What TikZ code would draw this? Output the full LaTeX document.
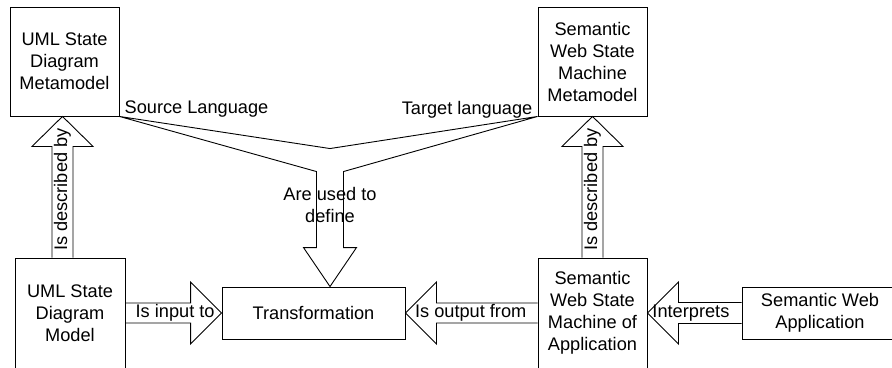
\documentclass[tikz,border=0pt]{standalone}
\usepackage{fontspec}
\setmainfont{Liberation Sans}
\usetikzlibrary{calc}

\begin{document}
\begin{tikzpicture}[x=1pt,y=-1pt,
    every node/.style={font=\fontsize{18.2}{22}\selectfont},
    box/.style={draw,line width=0.9pt,inner sep=0pt,align=center},
    blk/.style={draw,line width=0.9pt,line join=miter},
    lbl/.style={inner sep=0pt,align=center}]
    \useasboundingbox (0,0) rectangle (892,367);

    % Metamodels (top row)
    \node[box,minimum width=109pt,minimum height=109pt] (umlmeta) at (64.5,61.5) {UML State\\Diagram\\Metamodel};
    \node[box,minimum width=109pt,minimum height=109pt] (swmeta) at (592.5,61.5) {Semantic\\Web State\\Machine\\Metamodel};

    % Models and transformation (bottom row)
    \node[box,minimum width=110pt,minimum height=110pt] (umlmodel) at (70,313) {UML State\\Diagram\\Model};
    \node[box,minimum width=183pt,minimum height=52pt] (transf) at (313.5,313) {Transformation};
    \node[box,minimum width=109pt,minimum height=110pt] (swapp) at (592.5,313) {Semantic\\Web State\\Machine of\\Application};
    \node[box,minimum width=156pt,minimum height=52pt] (swweb) at (820,313) {Semantic Web\\Application};

    % Is described by (left)
    \coordinate (lx) at (62.5,0);
    \draw[blk] ($(lx |- umlmodel.north)+(-10.5,0)$) -- ($(lx |- umlmeta.south)+(-10.5,30)$) -- ++(-20,0)
        -- (lx |- umlmeta.south) -- ++(30.5,30) -- ++(-20,0) -- ($(lx |- umlmodel.north)+(10.5,0)$);
    \node[lbl,rotate=90] (descl) at ($(lx |- umlmodel.north)+(0,-68)$) {Is described by};

    % Is described by (right)
    \draw[blk] ($(swapp.north)+(-10.5,0)$) -- ($(swmeta.south)+(-10.5,30)$) -- ++(-20,0)
        -- (swmeta.south) -- ++(30.5,30) -- ++(-20,0) -- ($(swapp.north)+(10.5,0)$);
    \node[lbl,rotate=90] (descr) at ($(swapp.north)+(0,-68)$) {Is described by};

    % Is input to
    \draw[blk] ($(umlmodel.east)+(0,-10)$) -- ($(transf.west)+(-31,-10)$) -- ++(0,-21)
        -- (transf.west) -- ++(-31,31) -- ++(0,-21) -- ($(umlmodel.east)+(0,10)$);
    \node[lbl,anchor=west] (input) at ($(umlmodel.east)+(10,0)$) {Is input to};

    % Is output from
    \draw[blk] ($(swapp.west)+(0,-10)$) -- ($(transf.east)+(31,-10)$) -- ++(0,-21)
        -- (transf.east) -- ++(31,31) -- ++(0,-21) -- ($(swapp.west)+(0,10)$);
    \node[lbl,anchor=east] (output) at ($(swapp.west)+(-11,0)$) {Is output from};

    % Interprets
    \draw[blk] ($(swweb.west)+(0,-10.5)$) -- ($(swapp.east)+(31,-10.5)$) -- ++(0,-20.5)
        -- (swapp.east) -- ++(31,31) -- ++(0,-20.5) -- ($(swweb.west)+(0,10.5)$);
    \node[lbl,anchor=east] (interp) at ($(swweb.west)+(-12,0)$) {Interprets};

    % Are used to define (joined arrow)
    \coordinate (vtip) at ($(transf.north)+(16.5,0)$);
    \draw[blk] (umlmeta.south east) -- ($(vtip)+(0,-138)$) -- (swmeta.south west)
        -- ($(vtip)+(13.5,-115)$) -- ($(vtip)+(13.5,-39)$) -- ++(13,0) -- (vtip)
        -- ++(-26.5,-39) -- ++(13,0) -- ($(vtip)+(-13.5,-115)$) -- cycle;
    \node[lbl] (define) at ($(vtip)+(0,-82)$) {Are used to\\define};

    % Language labels
    \node[lbl,anchor=west] (srclang) at ($(umlmeta.south east)+(5,-7)$) {Source Language};
    \node[lbl,anchor=east] (tgtlang) at ($(swmeta.south west)+(-5,-7)$) {Target language};
\end{tikzpicture}
\end{document}
